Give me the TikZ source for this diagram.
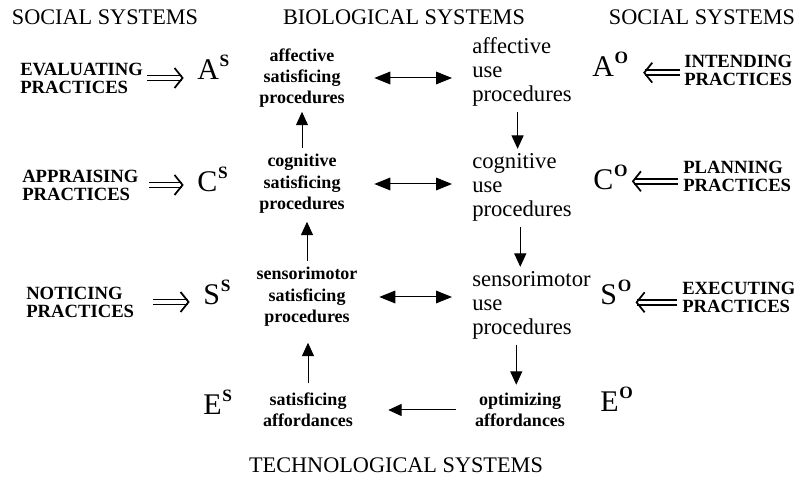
\documentclass[tikz,border=0pt]{standalone}
\usepackage{fontspec}
\setmainfont{Liberation Serif}
\usetikzlibrary{arrows.meta}

\newcommand{\syslet}[2]{{\fontsize{22.5}{24}\selectfont #1}\kern0.6pt\raisebox{10pt}{\fontsize{13}{13}\selectfont\bfseries #2}}

\begin{document}
\begin{tikzpicture}[x=0.75pt,y=-0.75pt,
  header/.style={font=\fontsize{16.7}{18}\selectfont,inner sep=0pt},
  practice/.style={font=\fontsize{14}{13.5}\selectfont\bfseries,align=left,inner sep=0pt},
  block/.style={font=\fontsize{13.5}{16}\selectfont\bfseries,align=center,text width=86pt,inner sep=0pt},
  useblock/.style={font=\fontsize{17}{18}\selectfont,align=left,text width=76pt,inner sep=0pt,anchor=west},
  letter/.style={anchor=base west,inner sep=0pt},
  link/.style={-{Triangle[length=10pt,width=9pt]},line width=0.75pt},
  both/.style={{Triangle[length=12pt,width=9.5pt]}-{Triangle[length=12pt,width=9.5pt]},line width=0.75pt,
    shorten <=11pt,shorten >=15pt},
  imply/.style={double,double distance=2.6pt,line width=1.2pt,-{Straight Barb[length=6pt,width=15pt,line width=1.3pt]}}]
\useasboundingbox (0,0) rectangle (794,477);
  %\draw[help lines,step=50] (0,0) grid (794,477);
% the four systems
\path
(105,17) node [header] (socl) {SOCIAL SYSTEMS}
(404,17) node [header] (bio) {BIOLOGICAL SYSTEMS}
(702,17) node [header] (socr) {SOCIAL SYSTEMS}
(396,465) node [header] (tech) {TECHNOLOGICAL SYSTEMS}
;
% practices
\path
(20,78) node [practice,anchor=west,text width=94pt] (evp) {EVALUATING\\PRACTICES}
(22,185) node [practice,anchor=west,text width=94pt] (app) {APPRAISING\\PRACTICES}
(26,302) node [practice,anchor=west,text width=94pt] (nop) {NOTICING\\PRACTICES}
(684,70) node [practice,anchor=west] (inp) {INTENDING\\PRACTICES}
(683,176) node [practice,anchor=west] (plp) {PLANNING\\PRACTICES}
(682,297) node [practice,anchor=west] (exp) {EXECUTING\\PRACTICES}
;
% letters
\path
(197,80) node [letter] (as) {\syslet{A}{S}}
(197,192) node [letter] (cs) {\syslet{C}{S}}
(203,305) node [letter] (ss) {\syslet{S}{S}}
(203,415) node [letter] (es) {\syslet{E}{S}}
(592,77) node [letter] (ao) {\syslet{A}{O}}
(593,190) node [letter] (co) {\syslet{C}{O}}
(600,305) node [letter] (so) {\syslet{S}{O}}
(600,412) node [letter] (eo) {\syslet{E}{O}}
;
% procedures and affordances
\path
(302,78) node [block] (asp) {affective\\satisficing\\procedures}
(302,184) node [block] (csp) {cognitive\\satisficing\\procedures}
(307,297) node [block] (ssp) {sensorimotor\\satisficing\\procedures}
(308,410) node [block] (saf) {satisficing\\affordances}
(520,410) node [block] (oaf) {optimizing\\affordances}
(472,72) node [useblock] (aup) {affective\\use\\procedures}
(472,187) node [useblock] (cup) {cognitive\\use\\procedures}
(472,305) node [useblock] (smp) {sensorimotor\\use\\procedures}
;
\draw[imply,shorten <=1pt,shorten >=10pt] (evp.east) -- (evp.east -| as.west);
\draw[imply,shorten <=1pt,shorten >=10pt] (app.east) -- (app.east -| cs.west);
\draw[imply,shorten <=1pt,shorten >=10pt] (nop.east) -- (nop.east -| ss.west);
\draw[imply,shorten <=3pt,shorten >=11pt] ([yshift=-2pt]inp.west) -- ([yshift=-2pt]inp.west -| ao.east);
\draw[imply,shorten <=4pt,shorten >=3pt] ([yshift=-4pt]plp.west) -- ([yshift=-4pt]plp.west -| co.east);
\draw[imply,shorten <=4pt,shorten >=3pt] ([yshift=-4pt]exp.west) -- ([yshift=-4pt]exp.west -| so.east);
\draw[both] (asp.east) -- (asp.east -| aup.west);
\draw[both] (csp.east) -- (csp.east -| cup.west);
\draw[both] (ssp.east) -- (ssp.east -| smp.west);
\draw[link,shorten <=5pt,shorten >=3pt] (csp.north) -- (csp.north |- asp.south);
\draw[link,shorten <=5pt,shorten >=6pt] (ssp.north) -- (ssp.north |- csp.south);
\draw[link,shorten <=7pt,shorten >=12pt] (saf.north) -- (saf.north |- ssp.south);
\draw[link,shorten <=4pt,shorten >=3pt] ([xshift=-4pt]aup.south) -- ([xshift=-4pt]aup.south |- cup.north);
\draw[link,shorten <=4pt,shorten >=3pt] ([xshift=-2pt]cup.south) -- ([xshift=-2pt]cup.south |- smp.north);
\draw[link,shorten <=4pt,shorten >=6pt] ([xshift=-5pt]smp.south) -- ([xshift=-5pt]smp.south |- oaf.north);
\draw[link,shorten <=5pt,shorten >=17pt] (oaf.west) -- (saf.east);
\end{tikzpicture}
\end{document}
